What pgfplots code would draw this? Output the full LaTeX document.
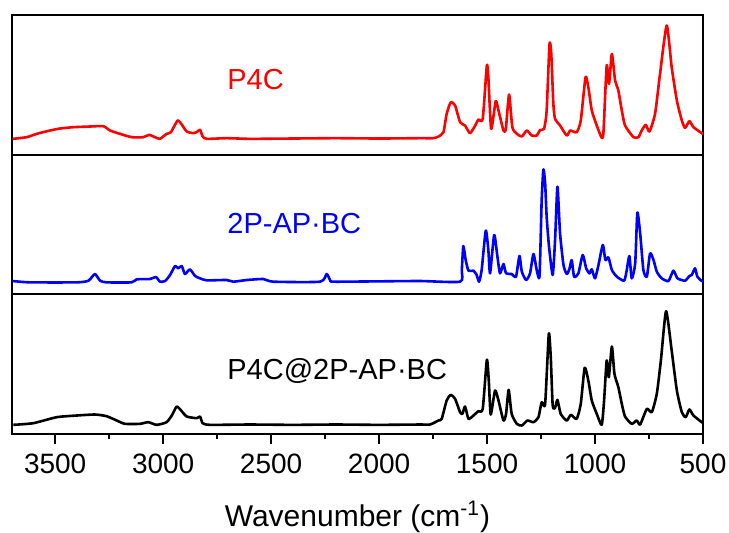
\documentclass[border=0pt]{standalone}
\usepackage{fontspec}
\setmainfont{Liberation Sans}
\usepackage{pgfplots}
\pgfplotsset{compat=1.18}
\begin{document}
\begin{tikzpicture}
\useasboundingbox (0,0) rectangle (364.5pt,-266pt);
\pgfplotsset{
 panel/.style={at={(6pt,#1)}, anchor=north west, scale only axis, width=345.5pt, height=69.75pt,
   xmin=500, xmax=3700, x dir=reverse, ymin=0, ymax=418.5, ytick=\empty, xtick=\empty,
   axis line style={line width=1pt}},
 spec/.style={line width=1.3pt, line join=round, smooth, tension=0.35},
}
\begin{axis}[panel=-7.5pt]
\addplot[red, spec] coordinates {
(3697,47)(3632,52)(3586,62)(3524,72)(3478,78)(3416,82)(3339,84)(3277,85)(3246,72)(3200,62)
(3146,52)(3092,52)(3065,59)(3038,52)(3015,47)(2984,62)(2964,67)(2933,102)(2914,90)(2891,69)
(2860,64)(2845,67)(2829,74)(2817,54)(2798,47)(2706,49)(2598,47)(2400,48)(2200,49)(2000,48)
(1810,49)(1749,49)(1725,54)(1702,67)(1687,122)(1668,157)(1648,147)(1625,97)(1602,87)(1579,64)
(1555,87)(1540,105)(1520,107)(1501,267)(1494,232)(1481,77)(1460,160)(1447,132)(1424,72)(1413,77)
(1398,180)(1383,82)(1362,62)(1339,54)(1316,72)(1293,57)(1270,57)(1254,74)(1236,77)(1224,132)
(1211,330)(1203,307)(1193,152)(1185,107)(1162,87)(1131,57)(1115,72)(1085,67)(1066,102)(1044,232)
(1031,202)(1015,132)(992,87)(969,50)(961,67)(946,267)(935,212)(922,302)(907,222)(892,192)
(876,132)(861,87)(822,52)(799,52)(784,72)(765,89)(748,69)(722,122)(699,242)(668,387)
(645,262)(621,162)(598,102)(583,80)(563,100)(544,82)(506,64)(500,62)
};
\end{axis}
\begin{axis}[panel=-77.25pt]
\addplot[blue, spec] coordinates {
(3697,39)(3617,35)(3400,35)(3346,40)(3316,60)(3292,40)(3262,35)(3146,35)(3123,44)(3061,45)
(3033,51)(3015,37)(2991,39)(2968,57)(2945,84)(2930,77)(2914,84)(2899,60)(2876,74)(2852,54)
(2829,47)(2798,41)(2706,42)(2675,37)(2613,42)(2536,45)(2490,37)(2273,37)(2243,60)(2227,42)
(2212,37)(2000,38)(1810,39)(1625,37)(1617,72)(1610,144)(1599,102)(1586,70)(1563,70)(1548,57)
(1537,37)(1525,72)(1506,190)(1494,132)(1486,62)(1467,177)(1452,112)(1440,62)(1424,90)(1412,62)
(1386,60)(1366,52)(1350,114)(1339,67)(1319,42)(1301,62)(1285,120)(1270,72)(1257,54)(1247,282)
(1239,374)(1231,332)(1224,232)(1213,142)(1196,57)(1185,162)(1174,322)(1162,182)(1146,87)(1131,60)
(1119,74)(1108,102)(1097,52)(1077,62)(1057,117)(1041,77)(1026,62)(1015,74)(1000,47)(984,87)
(964,147)(952,102)(938,110)(922,72)(899,52)(865,40)(853,72)(841,114)(830,47)(814,92)
(804,244)(791,182)(776,72)(760,52)(745,122)(729,102)(714,67)(691,47)(660,39)(637,70)
(618,47)(583,40)(563,54)(552,57)(537,77)(526,52)(506,39)(500,39)
};
\end{axis}
\begin{axis}[panel=-147pt, xtick={500,1000,...,3500}, minor xtick={750,1250,...,3250},
  xtick pos=left, tick align=outside, major tick length=5pt, minor tick length=2.5pt,
  tick style={line width=1pt, black},
  ticklabel style={font=\fontsize{14}{16}\selectfont},
  xticklabel style={yshift=-1.5pt},
  /pgf/number format/assume math mode=true, /pgf/number format/set thousands separator={},
  xlabel={Wavenumber (cm\textsuperscript{-1})},
  xlabel style={font=\fontsize{15}{18}\selectfont, at={(rel axis cs:0.5,0)}, anchor=center, yshift=-41.75pt}]
\addplot[black, spec] coordinates {
(3694,26)(3601,31)(3493,49)(3400,54)(3316,57)(3262,52)(3215,39)(3177,29)(3107,29)(3069,34)
(3030,26)(2984,34)(2960,54)(2937,81)(2914,67)(2891,51)(2845,46)(2829,51)(2817,31)(2783,26)
(2600,27)(2400,26)(2200,27)(2000,26)(1810,27)(1764,27)(1725,39)(1710,44)(1687,99)(1668,116)
(1648,104)(1625,64)(1614,59)(1602,81)(1586,44)(1563,54)(1540,67)(1520,74)(1501,221)(1492,159)
(1483,57)(1463,129)(1447,99)(1424,39)(1412,59)(1400,131)(1386,59)(1362,29)(1339,24)(1313,39)
(1285,34)(1262,49)(1247,94)(1231,89)(1214,299)(1205,229)(1196,84)(1185,77)(1174,101)(1159,59)
(1131,39)(1112,56)(1085,44)(1066,89)(1048,197)(1031,159)(1015,99)(992,59)(969,26)(958,99)
(946,219)(936,169)(922,261)(910,179)(892,139)(876,89)(861,51)(830,29)(807,39)(791,27)
(760,74)(737,64)(714,119)(695,219)(671,367)(645,249)(621,129)(598,64)(580,49)(563,72)
(544,54)(506,34)(500,32)
};
\end{axis}
\node[anchor=base west, inner sep=0pt, text=red, font=\fontsize{14.5}{17}\selectfont] at (113.5pt,-44.5pt) {P4C};
\node[anchor=base west, inner sep=0pt, text=blue, font=\fontsize{14.5}{17}\selectfont] at (113.5pt,-116.5pt) {2P-AP·BC};
\node[anchor=base west, inner sep=0pt, text=black, font=\fontsize{14.5}{17}\selectfont] at (113.5pt,-189.5pt) {P4C@2P-AP·BC};
\end{tikzpicture}
\end{document}
